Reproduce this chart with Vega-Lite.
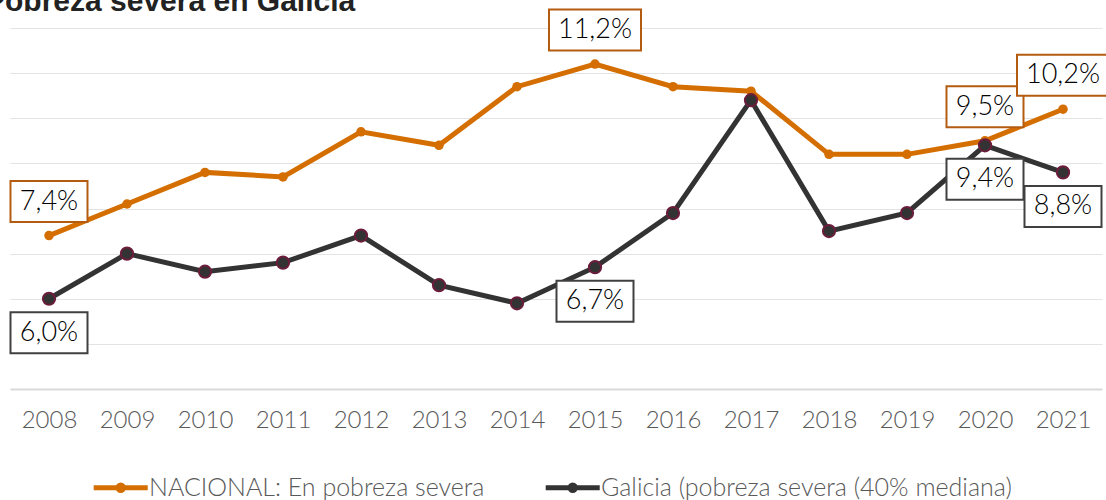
{
  "$schema": "https://vega.github.io/schema/vega-lite/v6.json",
  "autosize": {"type": "none"},
  "padding": {"left": 10, "top": 28, "right": 4, "bottom": 111},
  "width": 1092,
  "height": 361,
  "title": {
    "text": "Pobreza severa en Galicia",
    "anchor": "start",
    "frame": "group",
    "font": "Liberation Sans",
    "fontSize": 30,
    "fontWeight": "bold",
    "color": "#222222",
    "baseline": "alphabetic",
    "offset": 0,
    "dx": -25,
    "dy": 35
  },
  "config": {
    "view": {"stroke": null},
    "font": "Lato"
  },
  "data": {
    "values": [
      {"year": 2008, "series": "NACIONAL: En pobreza severa", "value": 7.4},
      {"year": 2009, "series": "NACIONAL: En pobreza severa", "value": 8.1},
      {"year": 2010, "series": "NACIONAL: En pobreza severa", "value": 8.8},
      {"year": 2011, "series": "NACIONAL: En pobreza severa", "value": 8.7},
      {"year": 2012, "series": "NACIONAL: En pobreza severa", "value": 9.7},
      {"year": 2013, "series": "NACIONAL: En pobreza severa", "value": 9.4},
      {"year": 2014, "series": "NACIONAL: En pobreza severa", "value": 10.7},
      {"year": 2015, "series": "NACIONAL: En pobreza severa", "value": 11.2},
      {"year": 2016, "series": "NACIONAL: En pobreza severa", "value": 10.7},
      {"year": 2017, "series": "NACIONAL: En pobreza severa", "value": 10.6},
      {"year": 2018, "series": "NACIONAL: En pobreza severa", "value": 9.2},
      {"year": 2019, "series": "NACIONAL: En pobreza severa", "value": 9.2},
      {"year": 2020, "series": "NACIONAL: En pobreza severa", "value": 9.5},
      {"year": 2021, "series": "NACIONAL: En pobreza severa", "value": 10.2},
      {"year": 2008, "series": "Galicia (pobreza severa (40% mediana)", "value": 6.0},
      {"year": 2009, "series": "Galicia (pobreza severa (40% mediana)", "value": 7.0},
      {"year": 2010, "series": "Galicia (pobreza severa (40% mediana)", "value": 6.6},
      {"year": 2011, "series": "Galicia (pobreza severa (40% mediana)", "value": 6.8},
      {"year": 2012, "series": "Galicia (pobreza severa (40% mediana)", "value": 7.4},
      {"year": 2013, "series": "Galicia (pobreza severa (40% mediana)", "value": 6.3},
      {"year": 2014, "series": "Galicia (pobreza severa (40% mediana)", "value": 5.9},
      {"year": 2015, "series": "Galicia (pobreza severa (40% mediana)", "value": 6.7},
      {"year": 2016, "series": "Galicia (pobreza severa (40% mediana)", "value": 7.9},
      {"year": 2017, "series": "Galicia (pobreza severa (40% mediana)", "value": 10.4},
      {"year": 2018, "series": "Galicia (pobreza severa (40% mediana)", "value": 7.5},
      {"year": 2019, "series": "Galicia (pobreza severa (40% mediana)", "value": 7.9},
      {"year": 2020, "series": "Galicia (pobreza severa (40% mediana)", "value": 9.4},
      {"year": 2021, "series": "Galicia (pobreza severa (40% mediana)", "value": 8.8}
    ]
  },
  "transform": [
    {"calculate": "replace(format(datum.value, '.1f'), '.', ',') + '%'", "as": "label"}
  ],
  "encoding": {
    "x": {
      "field": "year",
      "type": "ordinal",
      "scale": {"type": "point", "padding": 0.5},
      "axis": {
        "title": null,
        "labelAngle": 0,
        "labelFontSize": 24,
        "labelFontWeight": 300,
        "labelColor": "#595959",
        "labelPadding": 19,
        "ticks": false,
        "domainColor": "#d9d9d9",
        "domainWidth": 2
      }
    },
    "y": {
      "field": "value",
      "type": "quantitative",
      "scale": {"domain": [4, 12], "nice": false, "zero": false},
      "axis": {
        "title": null,
        "labels": false,
        "ticks": false,
        "domain": false,
        "values": [5, 6, 7, 8, 9, 10, 11, 12],
        "gridColor": "#e3e3e3",
        "gridWidth": 1
      }
    }
  },
  "layer": [
    {
      "mark": {"type": "line", "strokeWidth": 5},
      "encoding": {
        "color": {
          "field": "series",
          "type": "nominal",
          "scale": {
            "domain": ["NACIONAL: En pobreza severa", "Galicia (pobreza severa (40% mediana)"],
            "range": ["#d46e00", "#333333"]
          },
          "legend": {
            "title": null,
            "orient": "none",
            "legendX": 81,
            "legendY": 446,
            "direction": "horizontal",
            "labelFontSize": 25,
            "labelFontWeight": 300,
            "labelColor": "#595959",
            "labelLimit": 600,
            "labelOffset": 31,
            "columnPadding": 50,
            "symbolType": "M-1,0L4,0M1.75,0A0.25,0.25 0 1 1 1.25,0A0.25,0.25 0 1 1 1.75,0Z",
            "symbolSize": 467,
            "symbolStrokeWidth": 5,
            "encode": {
              "symbols": {
                "update": {
                  "fill": {"scale": "color", "field": "value"},
                  "stroke": {"scale": "color", "field": "value"}
                }
              }
            }
          }
        }
      }
    },
    {
      "transform": [{"filter": "datum.series == 'NACIONAL: En pobreza severa'"}],
      "mark": {"type": "point", "filled": true, "size": 90, "color": "#d46e00", "opacity": 1}
    },
    {
      "transform": [{"filter": "datum.series != 'NACIONAL: En pobreza severa'"}],
      "mark": {"type": "point", "filled": true, "size": 150, "fill": "#333333", "stroke": "#6b1d3b", "strokeWidth": 2, "opacity": 1}
    },
    {
      "transform": [
        {"filter": "datum.series == 'NACIONAL: En pobreza severa' && indexof([2008, 2015, 2020, 2021], datum.year) >= 0"}
      ],
      "mark": {"type": "point", "filled": true, "fill": "white", "stroke": "#b35c10", "strokeWidth": 2, "size": 8464, "yOffset": -34, "opacity": 1},
      "encoding": {
        "shape": {
          "condition": {"test": "datum.value >= 10", "value": "M-1,-0.446L1,-0.446L1,0.446L-1,0.446Z"},
          "value": "M-0.837,-0.446L0.837,-0.446L0.837,0.446L-0.837,0.446Z"
        }
      }
    },
    {
      "transform": [
        {"filter": "datum.series != 'NACIONAL: En pobreza severa' && indexof([2008, 2015, 2020, 2021], datum.year) >= 0"}
      ],
      "mark": {"type": "point", "filled": true, "fill": "white", "stroke": "#404040", "strokeWidth": 2, "size": 8464, "yOffset": 34, "opacity": 1},
      "encoding": {
        "shape": {
          "condition": {"test": "datum.value >= 10", "value": "M-1,-0.446L1,-0.446L1,0.446L-1,0.446Z"},
          "value": "M-0.837,-0.446L0.837,-0.446L0.837,0.446L-0.837,0.446Z"
        }
      }
    },
    {
      "transform": [
        {"filter": "datum.series == 'NACIONAL: En pobreza severa' && indexof([2008, 2015, 2020, 2021], datum.year) >= 0"}
      ],
      "mark": {"type": "text", "fontSize": 27, "fontWeight": 300, "color": "#000000", "baseline": "middle", "align": "center", "yOffset": -34},
      "encoding": {"text": {"field": "label"}}
    },
    {
      "transform": [
        {"filter": "datum.series != 'NACIONAL: En pobreza severa' && indexof([2008, 2015, 2020, 2021], datum.year) >= 0"}
      ],
      "mark": {"type": "text", "fontSize": 27, "fontWeight": 300, "color": "#000000", "baseline": "middle", "align": "center", "yOffset": 34},
      "encoding": {"text": {"field": "label"}}
    }
  ]
}
